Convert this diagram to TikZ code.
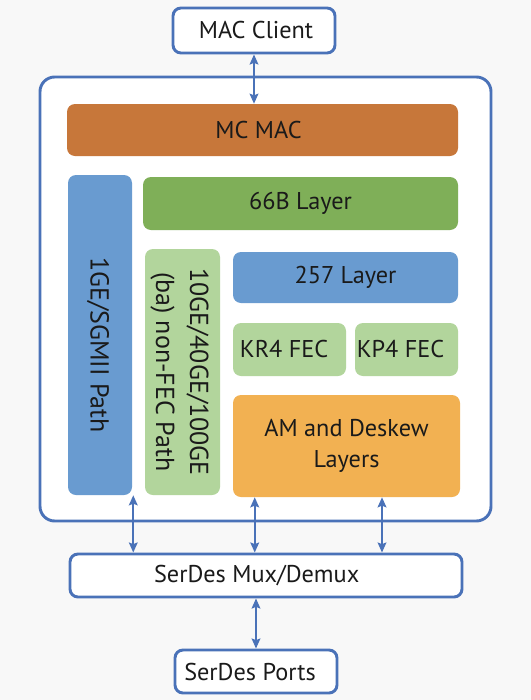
\documentclass[tikz,border=0pt]{standalone}
\usepackage{fontspec}
\setmainfont{PT Sans}
\usetikzlibrary{calc,arrows.meta}
\definecolor{bgcol}{HTML}{F8F8F8}
\definecolor{lineblue}{HTML}{4A72B8}
\definecolor{macbrown}{HTML}{C7773A}
\definecolor{pathblue}{HTML}{699BD0}
\definecolor{darkgreen}{HTML}{7FAF58}
\definecolor{lightgreen}{HTML}{B2D59C}
\definecolor{amorange}{HTML}{F2B152}
\definecolor{txt}{HTML}{1A1A1A}
\begin{document}
\begin{tikzpicture}[x=0.75pt,y=-0.75pt,
  blk/.style={rounded corners=6pt, inner sep=0pt, text=txt,
    font=\fontsize{18.2}{23.5}\selectfont, align=center},
  wbox/.style={blk, draw=lineblue, line width=2.2pt, fill=white},
  rot/.style={blk, font=\fontsize{19.5}{25.5}\selectfont},
  arr/.style={draw=lineblue, line width=1.8pt,
    {Stealth[length=7.5pt,width=6.5pt,inset=1.2pt]}-{Stealth[length=7.5pt,width=6.5pt,inset=1.2pt]}}]
\fill[bgcol] (0,0) rectangle (531,700);
\useasboundingbox (0,0) rectangle (531,700);

\node[wbox, minimum width=121.5pt, minimum height=33.75pt] (client) at (254,30.5) {\hspace*{3pt}MAC Client};
\node[draw=lineblue, line width=2.2pt, rounded corners=11pt, fill=white, minimum width=338.25pt, minimum height=333pt, inner sep=0pt] (outer) at (265.5,299) {};
\node[blk, fill=macbrown, minimum width=293.25pt, minimum height=39pt] (mcmac) at (262.5,130) {MC MAC\hspace*{6pt}};
\node[blk, fill=pathblue, minimum width=48pt, minimum height=240pt] (gpath) at (100,335) {};
\node[rot, rotate=-90] at ($(gpath.center)+(-2,10)$) {1GE/SGMII Path};
\node[blk, fill=darkgreen, minimum width=236.25pt, minimum height=39.75pt] (l66) at (300.5,203.5) {66B Layer};
\node[blk, fill=lightgreen, minimum width=56.25pt, minimum height=184.5pt] (tenge) at (182.5,372) {};
\node[rot, rotate=-90] at ($(tenge.center)+(-3,0)$) {10GE/40GE/100GE\\(ba) non-FEC Path};
\node[blk, fill=pathblue, minimum width=168.75pt, minimum height=38.25pt] (l257) at (345.5,277.5) {257 Layer};
\node[blk, fill=lightgreen, minimum width=84.75pt, minimum height=39.75pt] (kr4) at (289.5,349.5) {KR4 FEC\hspace*{8pt}};
\node[blk, fill=lightgreen, minimum width=77.25pt, minimum height=39.75pt] (kp4) at (406.5,349.5) {KP4 FEC\hspace*{9pt}};
\node[blk, fill=amorange, minimum width=170.25pt, minimum height=76.5pt] (am) at (346.5,446) {AM and Deskew\\Layers};
\node[wbox, minimum width=294pt, minimum height=32.25pt] (mux) at (266,575.5) {SerDes Mux/Demux\hspace*{14pt}};
\node[wbox, minimum width=121.5pt, minimum height=32.25pt] (ports) at (256,671.5) {SerDes Ports\hspace*{9pt}};

\draw[arr] (client.south) -- (client.south |- mcmac.north);
\draw[arr] ($(gpath.south east)+(1,0)$) -- ($(gpath.south east |- mux.north)+(1,0)$);
\draw[arr] ($(am.south west)+(22,0)$) -- ($(am.south west |- mux.north)+(22,0)$);
\draw[arr] ($(am.south)+(35.5,0)$) -- ($(am.south |- mux.north)+(35.5,0)$);
\draw[arr] (mux.south -| ports.north) -- (ports.north);
\end{tikzpicture}
\end{document}
